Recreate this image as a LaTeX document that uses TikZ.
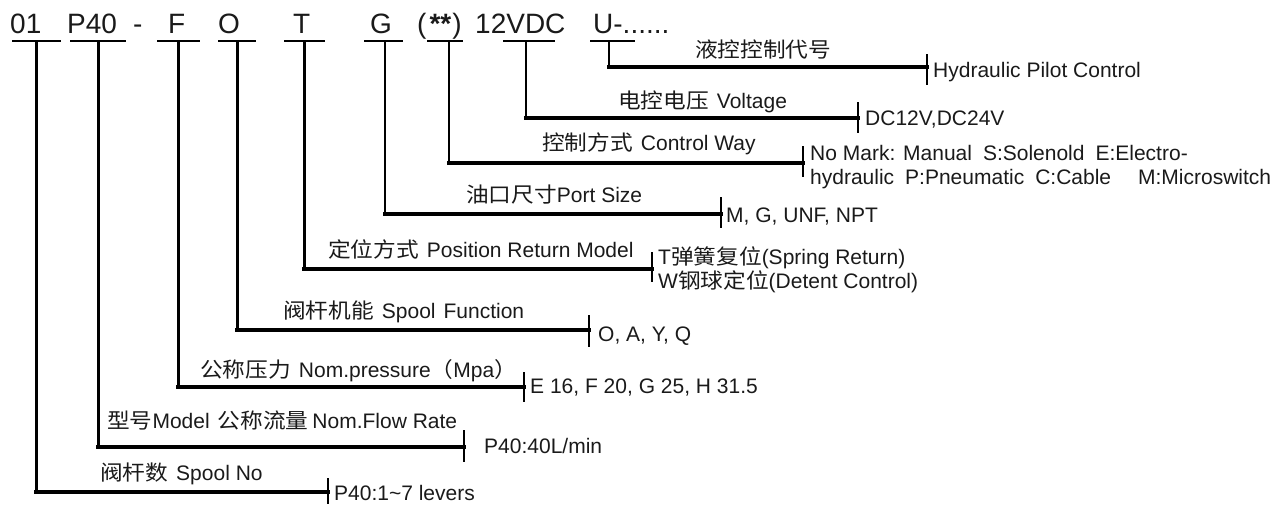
\documentclass[tikz,border=0pt]{standalone}
\usepackage{fontspec}
\setmainfont{Liberation Sans}
\newfontfamily\cjk[FakeStretch=1.08]{Noto Sans CJK SC}
\definecolor{ink}{HTML}{1A1A1A}
\begin{document}
\begin{tikzpicture}[x=1pt,y=-1pt,
  hdr/.style={anchor=base west,inner sep=0pt,text=ink,font=\fontsize{28}{32}\selectfont},
  lbl/.style={anchor=base west,inner sep=0pt,text=ink,font=\fontsize{21}{24}\selectfont},
  uline/.style={line width=1.6pt},
  leadthick/.style={line width=3pt},
  leadthin/.style={line width=1.8pt},
  leadh/.style={line width=3.2pt,line cap=rect},
  barline/.style={line width=1.8pt}]
\useasboundingbox (0,0) rectangle (1277,504);

% header codes
\node[hdr] (h01) at (10,33) {01};
\node[hdr] (hP40) at (67,33) {P40};
\node[hdr] (hdash) at (133,33) {-};
\node[hdr] (hF) at (168,33) {F};
\node[hdr] (hO) at (218,33) {O};
\node[hdr] (hT) at (293,33) {T};
\node[hdr] (hG) at (370,33) {G};
\node[hdr] (hst) at (417,33) {(\hspace{3pt}{\bfseries **}\hspace{1pt})};
\node[hdr] (hV) at (475,33) {12VDC};
\node[hdr] (hU) at (593,33) {U-......};

% underlines
\foreach \n/\a/\b in {01/12/61, P40/70/126, F/157/200, O/218/256, T/284/325,
                      G/364/403, st/427/463, V/503/555, U/590/635}{
  \coordinate (ua\n) at (\a,41);
  \coordinate (ub\n) at (\b,41);
  \draw[uline] (ua\n) -- (ub\n);
}

% branches: name / vertical x / horizontal y / bar x / bar top / bar bottom / style
\foreach \n/\vx/\hy/\bx/\bt/\bb/\st in {
   01/36/492/328/478/504/leadthick,
   P40/98/447/464/430/462/leadthick,
   F/178/387/524/372/402/leadthick,
   O/237/330/589/315/347/leadthick,
   T/304/269/652/252/282/leadthick,
   G/385/214/721/197/228/leadthin,
   st/449/163/803/146/177/leadthin,
   V/526/118/858/102/133/leadthin,
   U/609/67/927/54/85/leadthin}{
  \coordinate (top\n) at (\vx,41);
  \coordinate (cor\n) at (\vx,\hy);
  \coordinate (end\n) at (\bx,\hy);
  \coordinate (bt\n) at (\bx,\bt);
  \coordinate (bb\n) at (\bx,\bb);
  \draw[\st] (top\n) -- (cor\n);
  \draw[leadh] (cor\n) -- (end\n);
  \draw[barline] (bt\n) -- (bb\n);
}

% branch titles
\node[lbl] (lU) at (695,57) {{\cjk 液控控制代号}};
\node[lbl] (lV) at (618,108) {{\cjk 电控电压}\hspace{8pt}Voltage};
\node[lbl] (lst) at (542,150) {{\cjk 控制方式}\hspace{8pt}Control Way};
\node[lbl] (lG) at (466,202) {{\cjk 油口尺寸}Port Size};
\node[lbl] (lT) at (328,257) {{\cjk 定位方式}\hspace{8pt}Position Return Model};
\node[lbl] (lO) at (283,318) {{\cjk 阀杆机能}\hspace{8pt}Spool\hspace{8pt}Function};
\node[lbl] (lF) at (200,377) {{\cjk 公称压力}\hspace{8pt}Nom.pressure{\cjk （}Mpa{\cjk ）}};
\node[lbl] (lP40) at (107,428) {{\cjk 型号}Model\hspace{8pt}{\cjk 公称流量}\hspace{4pt}Nom.Flow Rate};
\node[lbl] (l01) at (100,480) {{\cjk 阀杆数}\hspace{8pt}Spool No};

% option texts
\node[lbl] (oU) at (933,77) {Hydraulic Pilot Control};
\node[lbl] (oV) at (865,125) {DC12V,DC24V};
\node[lbl] (ost1) at (810,160) {No Mark: Manual\hspace{11pt}S:Solenold\hspace{11pt}E:Electro-};
\node[lbl] (ost2) at (810,184) {hydraulic\hspace{11pt}P:Pneumatic\hspace{11pt}C:Cable\hspace{27pt}M:Microswitch};
\node[lbl] (oG) at (726,222) {M, G, UNF, NPT};
\node[lbl] (oT1) at (658,264) {T{\cjk 弹簧复位}(Spring Return)};
\node[lbl] (oT2) at (658,288) {W{\cjk 钢球定位}(Detent Control)};
\node[lbl] (oO) at (598,341) {O, A, Y, Q};
\node[lbl] (oF) at (530,393) {E 16, F 20, G 25, H 31.5};
\node[lbl] (oP40) at (484,453) {P40:40L/min};
\node[lbl] (o01) at (334,500) {P40:1\textasciitilde7 levers};
\end{tikzpicture}
\end{document}
